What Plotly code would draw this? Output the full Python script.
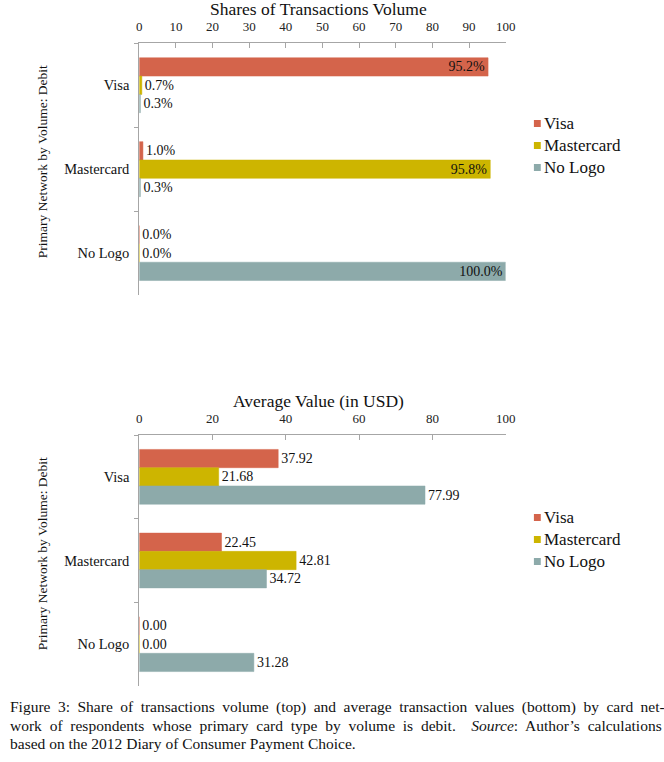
import plotly.graph_objects as go

categories = ["Visa", "Mastercard", "No Logo"]
series_names = ["Visa", "Mastercard", "No Logo"]
share_visa = [95.2, 1.0, 0.0]
share_master = [0.7, 95.8, 0.0]
share_nologo = [0.3, 0.3, 100.0]
avg_visa = [37.92, 22.45, 0.00]
avg_master = [21.68, 42.81, 0.00]
avg_nologo = [77.99, 34.72, 31.28]
share_ticks = [0, 10, 20, 30, 40, 50, 60, 70, 80, 90, 100]
avg_ticks = [0, 20, 40, 60, 80, 100]

colors = ["#D4644B", "#CDB500", "#8DAAAA"]
FONT = "Liberation Serif"
W, H = 664, 762

def py(px):
    return 1 - px / H

def pxx(px):
    return px / W

fig = go.Figure()

share_series = [share_visa, share_master, share_nologo]
avg_series = [avg_visa, avg_master, avg_nologo]

for name, vals, col in zip(series_names, share_series, colors):
    fig.add_trace(go.Bar(
        y=categories, x=vals, name=name, orientation="h", showlegend=False,
        marker=dict(color=col, line=dict(color=col, width=0.5)),
        text=[f"{v:.1f}%" for v in vals],
        textposition=["inside" if v > 50 else "outside" for v in vals],
        insidetextanchor="end", textangle=0, constraintext="none",
        textfont=dict(family=FONT, size=14, color="#111"),
        cliponaxis=False,
        xaxis="x", yaxis="y",
    ))

for name, vals, col in zip(series_names, avg_series, colors):
    fig.add_trace(go.Bar(
        y=categories, x=vals, name=name, orientation="h", showlegend=False,
        marker=dict(color=col, line=dict(color=col, width=0.5)),
        text=[f"{v:.2f}" for v in vals],
        textposition="outside", textangle=0, constraintext="none",
        textfont=dict(family=FONT, size=14, color="#111"),
        cliponaxis=False,
        xaxis="x2", yaxis="y2",
    ))

xdom = [pxx(139), pxx(512.7)]
common_x = dict(
    side="top", showline=True, linecolor="#A6A6A6", linewidth=1,
    ticks="inside", ticklen=5, tickcolor="#A6A6A6", showgrid=False,
    zeroline=False, tickfont=dict(family=FONT, size=13, color="#222"),
    ticklabelstandoff=6, domain=xdom,
)
common_y = dict(
    showline=True, linecolor="#A6A6A6", linewidth=1,
    ticks="outside", ticklen=4, tickcolor="#A6A6A6", tickson="boundaries",
    showgrid=False, zeroline=False, autorange="reversed",
    tickfont=dict(family=FONT, size=14.5, color="#111"),
    ticklabelstandoff=6,
)

fig.update_layout(
    width=W, height=H, margin=dict(l=0, r=0, t=0, b=0),
    paper_bgcolor="white", plot_bgcolor="white",
    barmode="group", bargap=0.345, bargroupgap=0,
    font=dict(family=FONT, color="#111"),
    showlegend=False,
    xaxis=dict(common_x, range=[0, 100], tickvals=share_ticks, anchor="y"),
    yaxis=dict(common_y, domain=[py(295), py(43.3)], anchor="x"),
    xaxis2=dict(common_x, range=[0, 100], tickvals=avg_ticks, anchor="y2"),
    yaxis2=dict(common_y, domain=[py(686), py(435)], anchor="x2"),
)

annotations = [
    dict(text="Shares of Transactions Volume", x=pxx(322), y=py(9), xanchor="center",
         yanchor="middle", font=dict(family=FONT, size=17.5, color="#111")),
    dict(text="Average Value (in USD)", x=pxx(322), y=py(401), xanchor="center",
         yanchor="middle", font=dict(family=FONT, size=17.5, color="#111")),
    dict(text="Primary Network by Volume: Debit", x=pxx(40), y=py(162), xanchor="center",
         yanchor="middle", textangle=-90, font=dict(family=FONT, size=13.5, color="#111")),
    dict(text="Primary Network by Volume: Debit", x=pxx(40), y=py(554), xanchor="center",
         yanchor="middle", textangle=-90, font=dict(family=FONT, size=13.5, color="#111")),
]

# legend entries (small square swatch + label), one block per panel
shapes = []
legend_rows = [[123.5, 145.5, 167.5], [517.5, 539.5, 561.5]]
for rows in legend_rows:
    for name, col, yc in zip(series_names, colors, rows):
        shapes.append(dict(type="rect", xref="paper", yref="paper",
                           x0=pxx(541.5), x1=pxx(548.5), y0=py(yc + 3.5), y1=py(yc - 3.5),
                           fillcolor=col, line=dict(width=0)))
        annotations.append(dict(text=name, x=pxx(550), y=py(yc), xanchor="left",
                                yanchor="middle",
                                font=dict(family=FONT, size=17, color="#111")))

caption_lines = [
    ("Figure 3: Share of transactions volume (top) and average transaction values (bottom) by card net-", 3.6),
    ("work of respondents whose primary card type by volume is debit.  <i>Source</i>: Author\u2019s calculations", 3.9),
    ("based on the 2012 Diary of Consumer Payment Choice.", 0),
]
for i, (line, ws) in enumerate(caption_lines):
    annotations.append(dict(text=f"<span style=\"word-spacing:{ws}px\">{line}</span>",
                            x=pxx(5), y=py(707 + 18 * i), xanchor="left",
                            yanchor="middle", font=dict(family=FONT, size=15.5, color="#111")))
for a in annotations:
    a.update(xref="paper", yref="paper", showarrow=False)
fig.update_layout(annotations=annotations, shapes=shapes)

fig.write_html("out.html", config={"displayModeBar": False},
               post_script="document.body.style.margin='0';")
